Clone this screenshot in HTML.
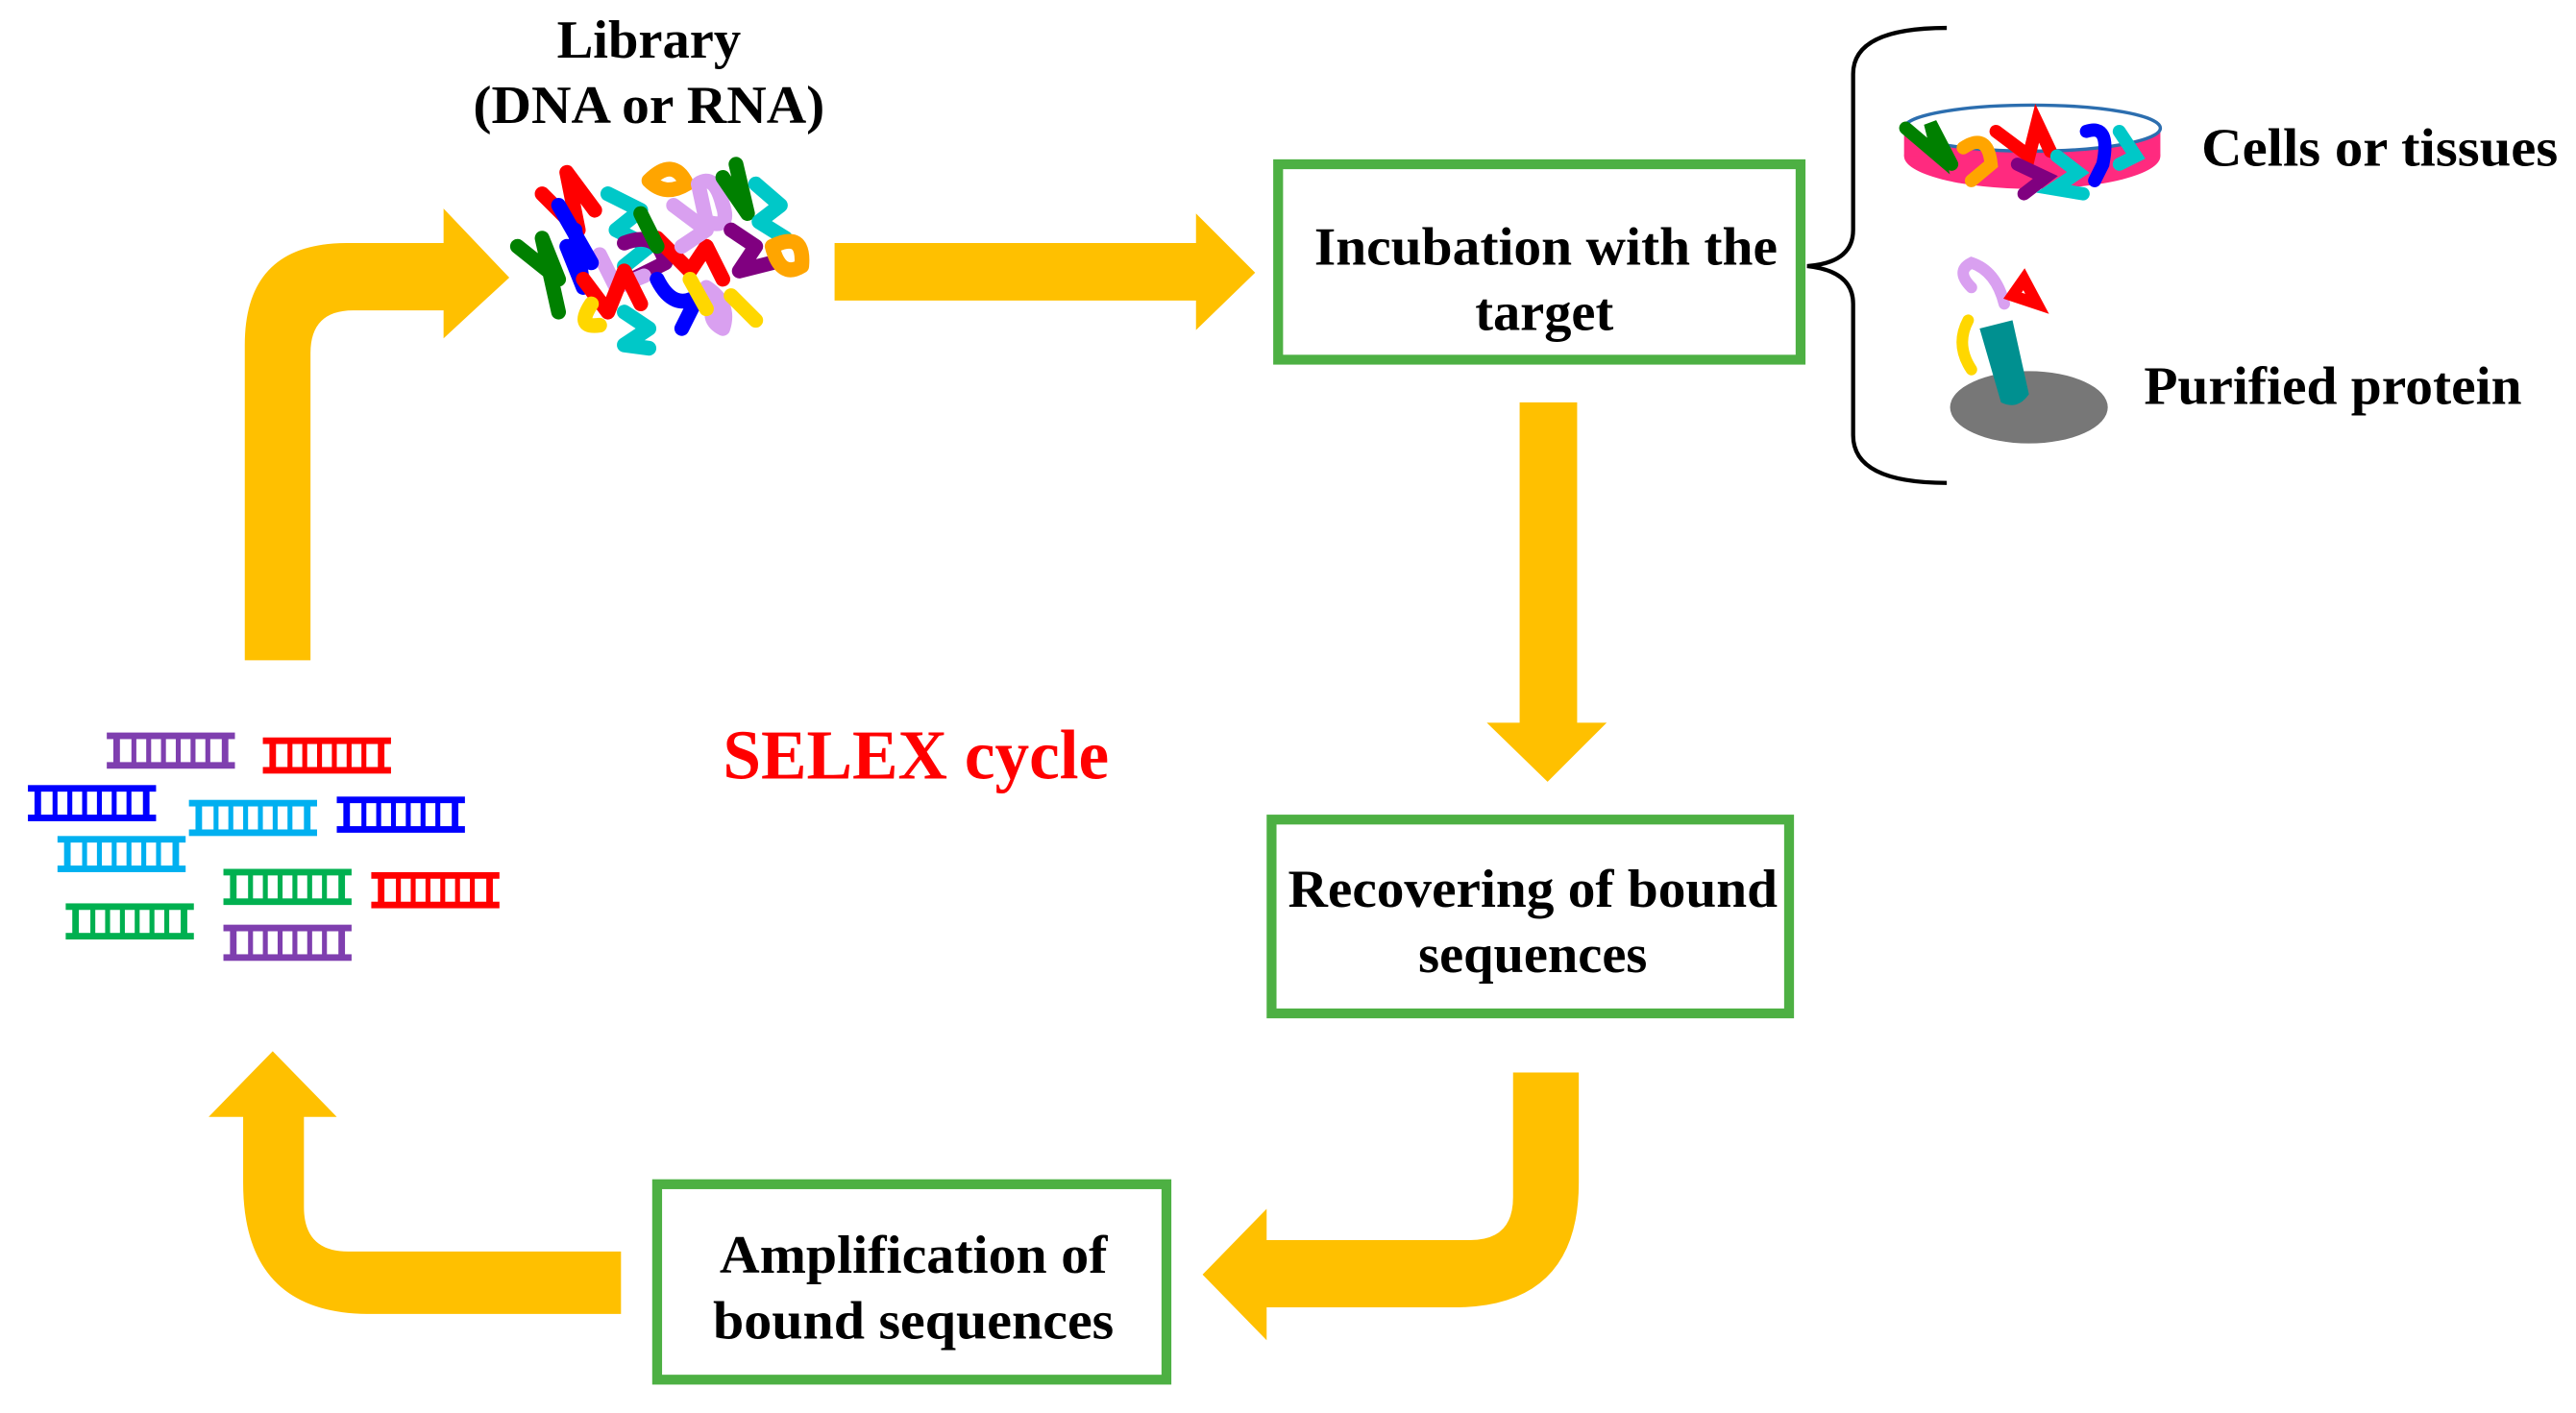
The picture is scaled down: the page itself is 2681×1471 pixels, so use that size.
<!DOCTYPE html>
<html><head><meta charset="utf-8"><style>
html,body{margin:0;padding:0;background:#fff;}
svg{display:block;}
text{font-family:"Liberation Serif",serif;font-weight:bold;}
</style></head><body>
<svg width="2681" height="1471" viewBox="0 0 1568 860.3" preserveAspectRatio="none" xmlns="http://www.w3.org/2000/svg">
<rect width="1568" height="861" fill="#fff"/>
<path d="M149,402 L149,210 Q149,148 211,148 L270,148 L270,127 L310,169 L270,206 L270,189 L215,189 Q189,189 189,215 L189,402 Z" fill="#FFC000"/>
<path d="M508,148 L728,148 L728,130 L764,166 L728,201 L728,183 L508,183 Z" fill="#FFC000"/>
<path d="M925,245 L960,245 L960,440 L978,440 L942,476 L905,440 L925,440 Z" fill="#FFC000"/>
<path d="M921,653 L961,653 L961,720 Q961,796 885,796 L771,796 L771,816 L732,776 L771,736 L771,755 L895,755 Q921,755 921,729 Z" fill="#FFC000"/>
<path d="M378,762 L378,800 L225,800 Q148,800 148,720 L148,680 L127,680 L166,640 L205,680 L185,680 L185,735 Q185,762 212,762 Z" fill="#FFC000"/>
<rect x="778" y="100" width="318" height="119" fill="#fff" stroke="#4DB043" stroke-width="6"/>
<rect x="774" y="499" width="315" height="118" fill="#fff" stroke="#4DB043" stroke-width="6"/>
<rect x="400" y="721" width="310" height="119" fill="#fff" stroke="#4DB043" stroke-width="6"/>
<g font-size="33" text-anchor="middle" fill="#000">
<text x="395" y="35" textLength="112" lengthAdjust="spacingAndGlyphs">Library</text>
<text x="395" y="75" textLength="214" lengthAdjust="spacingAndGlyphs">(DNA or RNA)</text>
<text x="941" y="161" textLength="282" lengthAdjust="spacingAndGlyphs">Incubation with the</text>
<text x="940" y="201">target</text>
<text x="933" y="552" textLength="298" lengthAdjust="spacingAndGlyphs">Recovering of bound</text>
<text x="933" y="592">sequences</text>
<text x="556" y="775" textLength="236" lengthAdjust="spacingAndGlyphs">Amplification of</text>
<text x="556" y="815" textLength="244" lengthAdjust="spacingAndGlyphs">bound sequences</text>
</g>
<text x="1340" y="101" font-size="33" textLength="217" lengthAdjust="spacingAndGlyphs">Cells or tissues</text>
<text x="1305" y="246" font-size="33" textLength="230" lengthAdjust="spacingAndGlyphs">Purified protein</text>
<text x="440" y="474" font-size="43" fill="#FF0000" textLength="235" lengthAdjust="spacingAndGlyphs">SELEX cycle</text>
<path d="M1185,17 Q1128,17 1128,45 L1128,140 Q1128,160 1100,162 Q1128,165 1128,185 L1128,265 Q1128,294 1185,294" fill="none" stroke="#000" stroke-width="2.5"/>
<g fill="none" stroke-width="9" stroke-linecap="round" stroke-linejoin="round">
<path d="M330,118 L352,140 L345,105 L362,128" stroke="#FF0000"/>
<path d="M370,118 L390,128 L375,140 L395,150 L380,162" stroke="#00C8C8"/>
<path d="M395,110 Q410,95 418,112 Q405,120 395,110" stroke="#FFA500"/>
<path d="M425,112 Q435,105 440,125 Q445,140 430,135 Z" stroke="#D9A0F0"/>
<path d="M440,108 L455,130 L448,100" stroke="#008000"/>
<path d="M460,112 L475,125 L462,135 L478,145" stroke="#00C8C8"/>
<path d="M315,150 L340,170 L330,145 L340,190" stroke="#008000"/>
<path d="M345,150 L355,175 L350,140" stroke="#0000FF"/>
<path d="M380,148 Q400,140 405,160 L385,170" stroke="#800080"/>
<path d="M400,145 L420,165 L430,150 L440,170" stroke="#FF0000"/>
<path d="M365,155 L375,175 L392,168" stroke="#D9A0F0"/>
<path d="M355,170 L370,190 L380,165 L390,185" stroke="#FF0000"/>
<path d="M400,170 Q410,190 425,180 L415,200" stroke="#0000FF"/>
<path d="M445,140 L460,150 L450,165 L470,160" stroke="#800080"/>
<path d="M470,150 Q490,140 488,162 Q475,170 470,150" stroke="#FFA500"/>
<path d="M360,185 Q350,200 365,198" stroke="#FFD700"/>
<path d="M380,190 L395,200 L380,210 L395,212" stroke="#00C8C8"/>
<path d="M430,175 Q445,185 440,200 Q430,195 435,185" stroke="#D9A0F0"/>
<path d="M420,170 L430,188" stroke="#FFD700"/>
<path d="M390,130 L400,150" stroke="#008000"/>
<path d="M340,125 L360,160" stroke="#0000FF"/>
<path d="M410,125 L430,140 L415,150" stroke="#D9A0F0"/>
<path d="M445,180 L460,195" stroke="#FFD700"/>
</g>
<ellipse cx="1237" cy="95" rx="78" ry="20" fill="#FF2A7F"/>
<rect x="1159" y="78" width="156" height="17" fill="#FF2A7F"/>
<ellipse cx="1237" cy="78" rx="78" ry="14" fill="#fff" stroke="#2C6EAF" stroke-width="2"/>
<g fill="none" stroke-width="8" stroke-linecap="round">
<path d="M1160,78 L1180,95 L1175,75 L1188,100" stroke="#008000"/>
<path d="M1195,90 Q1210,80 1212,100 L1200,110" stroke="#FFA500"/>
<path d="M1215,80 L1235,95 L1240,75 L1248,92" stroke="#FF0000"/>
<path d="M1228,100 L1245,108 L1232,118" stroke="#800080"/>
<path d="M1252,95 L1265,105 L1250,115 L1268,118" stroke="#00C8C8"/>
<path d="M1270,80 Q1285,75 1280,100 L1275,110" stroke="#0000FF"/>
<path d="M1290,80 L1300,95 L1290,100" stroke="#00C8C8"/>
</g>
<ellipse cx="1235" cy="248" rx="48" ry="22" fill="#777"/>
<path d="M1205,200 L1225,195 L1235,240 Q1228,250 1218,245 Z" fill="#009090"/>
<g fill="none" stroke-width="7" stroke-linecap="round">
<path d="M1200,175 Q1190,165 1200,160 Q1215,165 1220,185" stroke="#D9A0F0"/>
<path d="M1225,180 L1240,185 L1232,170 Z" stroke="#FF0000"/>
<path d="M1198,195 Q1190,210 1200,225" stroke="#FFD700"/>
</g>
<defs>
<g id="lad">
<rect x="0" y="0" width="78" height="4"/>
<rect x="0" y="18" width="78" height="4"/>
<rect x="4" y="2" width="4" height="18"/><rect x="15" y="2" width="3" height="18"/><rect x="24" y="2" width="3" height="18"/><rect x="33" y="2" width="3" height="18"/><rect x="42" y="2" width="3" height="18"/><rect x="51" y="2" width="3" height="18"/><rect x="60" y="2" width="3" height="18"/><rect x="70" y="2" width="4" height="18"/>
</g>
</defs>
<use href="#lad" x="65" y="446" fill="#7F3FAF"/>
<use href="#lad" x="160" y="449" fill="#FF0000"/>
<use href="#lad" x="17" y="478" fill="#0000FF"/>
<use href="#lad" x="115" y="487" fill="#00B0F0"/>
<use href="#lad" x="205" y="485" fill="#0000FF"/>
<use href="#lad" x="35" y="509" fill="#00B0F0"/>
<use href="#lad" x="136" y="529" fill="#00B050"/>
<use href="#lad" x="226" y="531" fill="#FF0000"/>
<use href="#lad" x="40" y="550" fill="#00B050"/>
<use href="#lad" x="136" y="563" fill="#7F3FAF"/>
</svg>
</body></html>
